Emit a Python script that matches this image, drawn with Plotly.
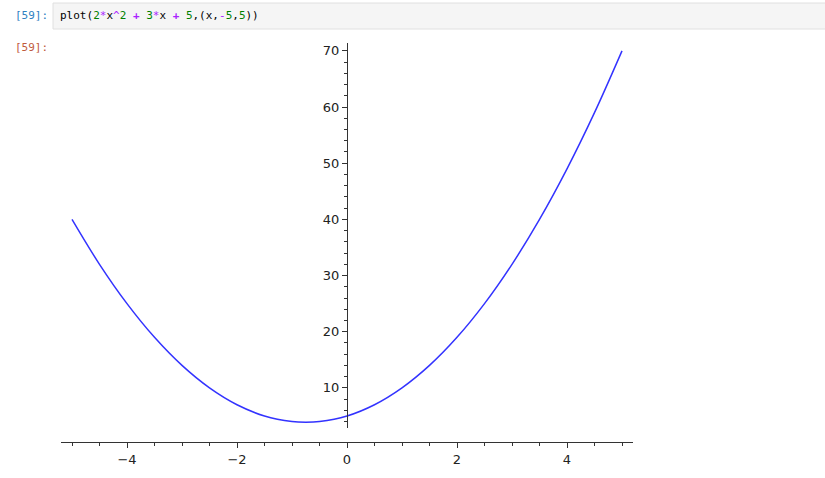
import plotly.graph_objects as go

# sample points
xs = [-5.0, -4.5, -4.0, -3.5, -3.0, -2.5, -2.0, -1.5, -1.0, -0.75, -0.5,
      0.0, 0.5, 1.0, 1.5, 2.0, 2.5, 3.0, 3.5, 4.0, 4.5, 5.0]
ys = [40.0, 32.0, 25.0, 19.0, 14.0, 10.0, 7.0, 5.0, 4.0, 3.875, 4.0,
      5.0, 7.0, 10.0, 14.0, 19.0, 25.0, 32.0, 40.0, 49.0, 59.0, 70.0]
x_ticks = [-4, -2, 0, 2, 4]
y_ticks = [10, 20, 30, 40, 50, 60, 70]
prompt = "[59]:"

W, H = 825, 478
L, R, T, B = 61, 192, 43, 36
ph = H - T - B

fig = go.Figure()
fig.add_trace(go.Scatter(
    x=xs, y=ys, mode="lines", line=dict(color="#3333ff", width=1.5, shape="spline"),
    hoverinfo="skip", showlegend=False,
))

axcol = "#333333"
tickfont = dict(family="DejaVu Sans", size=13, color="#222222")

fig.update_layout(
    width=W, height=H,
    paper_bgcolor="white", plot_bgcolor="white",
    margin=dict(l=L, r=R, t=T, b=B),
    xaxis=dict(
        range=[-5.2, 5.2], anchor="free", position=0,
        showgrid=False, zeroline=False, showline=True, linecolor=axcol, linewidth=1.2,
        tickvals=x_ticks, ticks="outside", ticklen=5, tickcolor=axcol, tickwidth=1,
        tickfont=tickfont, ticklabelstandoff=0,
        minor=dict(dtick=0.5, tick0=0, ticks="outside", ticklen=3, tickcolor=axcol, showgrid=False),
    ),
    yaxis=dict(
        range=[2.86, 71.4], domain=[14 / ph, 1], anchor="free", position=0.5,
        showgrid=False, zeroline=False, showline=True, linecolor=axcol, linewidth=1.2,
        tickvals=y_ticks, ticks="outside", ticklen=5, tickcolor=axcol, tickwidth=1,
        tickfont=tickfont,
        minor=dict(dtick=2, tick0=0, ticks="outside", ticklen=3, tickcolor=axcol, showgrid=False),
    ),
)

# notebook cell chrome, positions given in window pixels
def px_x(p):
    return (p - L) / (W - L - R)

def px_y(p):
    return (H - B - p) / ph

fig.add_shape(type="rect", xref="paper", yref="paper",
              x0=px_x(53), x1=px_x(830), y0=px_y(29), y1=px_y(3),
              fillcolor="#f5f5f5", line=dict(color="#e0e0e0", width=1), layer="below")

P, G, K = "#aa22ff", "#008000", "#000000"
def sp(t, c, bold=False):
    t = f"<b>{t}</b>" if bold else t
    return f'<span style="color:{c}">{t}</span>'

code = (sp("plot(", K) + sp("2", G) + sp("*", P) + sp("x", K) + sp("^", P) + sp("2", G)
        + " " + sp("+", P, True) + " " + sp("3", G) + sp("*", P) + sp("x", K)
        + " " + sp("+", P, True) + " " + sp("5", G) + sp(",(x,", K) + sp("-", P)
        + sp("5", G) + sp(",", K) + sp("5", G) + sp("))", K))

mono = "DejaVu Sans Mono"
fig.add_annotation(xref="paper", yref="paper", x=px_x(58), y=px_y(16),
                   xanchor="left", yanchor="middle", showarrow=False, text=code,
                   font=dict(family=mono, size=11, color=K))
fig.add_annotation(xref="paper", yref="paper", x=px_x(13), y=px_y(16),
                   xanchor="left", yanchor="middle", showarrow=False, text=prompt,
                   font=dict(family=mono, size=11, color="#307fc1"))
fig.add_annotation(xref="paper", yref="paper", x=px_x(13), y=px_y(47),
                   xanchor="left", yanchor="middle", showarrow=False, text=prompt,
                   font=dict(family=mono, size=11, color="#bf5b3d"))

# drop the browser's default body margin so the figure fills the window
fig.write_html("out.html", config={"displayModeBar": False},
               post_script="document.body.style.margin='0';document.body.style.overflow='hidden';")
